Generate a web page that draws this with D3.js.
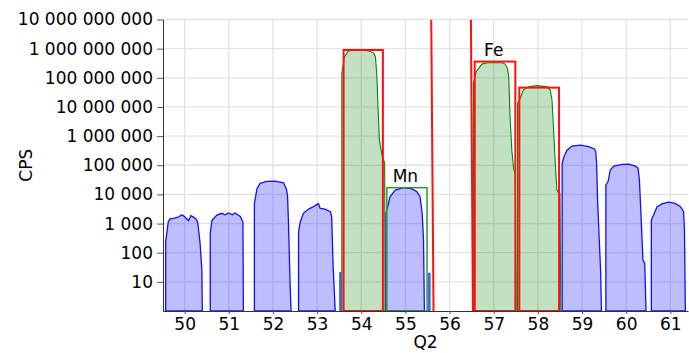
<!DOCTYPE html>
<html>
<head>
<meta charset="utf-8">
<script src="https://cdn.jsdelivr.net/npm/d3@7"></script>
<style>
  body { margin: 0; background: #fff; }
  text { font-family: "DejaVu Sans", sans-serif; fill: #000; }
</style>
</head>
<body>
<svg id="chart"></svg>
<script>
// tick values
const xTicks = [50, 51, 52, 53, 54, 55, 56, 57, 58, 59, 60, 61]
const yTicks = [1e1, 1e2, 1e3, 1e4, 1e5, 1e6, 1e7, 1e8, 1e9, 1e10]

// blue peaks, [Q2, CPS]
const peak50 = [[49.57,1],[49.57,240],[49.63,1150],[49.67,1450],[49.75,1500],[49.85,1650],[49.94,2000],[50.0,1700],[50.09,1250],[50.14,1850],[50.22,1600],[50.28,1300],[50.30,1000],[50.35,210],[50.39,26],[50.40,1]]
const peak51 = [[50.58,1],[50.58,460],[50.62,1300],[50.73,1950],[50.84,2250],[50.92,2000],[50.99,2300],[51.08,2000],[51.14,2300],[51.26,1750],[51.32,1150],[51.33,1]]
const peak52 = [[51.58,1],[51.58,4900],[51.64,16000],[51.71,24000],[51.86,28000],[52.05,28500],[52.24,25000],[52.30,16000],[52.33,9500],[52.35,1300],[52.39,7],[52.41,1]]
const peak53 = [[52.58,1],[52.58,520],[52.62,1150],[52.69,2250],[52.80,3100],[52.92,3800],[53.03,4900],[53.07,3300],[53.18,3100],[53.30,2550],[53.33,1750],[53.36,45],[53.41,1]]
const peakMn = [[54.56,1],[54.56,2250],[54.60,3800],[54.65,8300],[54.77,14000],[54.96,17000],[55.15,15500],[55.26,12300],[55.33,8300],[55.38,2250],[55.41,275],[55.43,1]]
const peak59 = [[58.55,1],[58.55,117000],[58.59,195000],[58.66,330000],[58.77,457000],[58.96,490000],[59.15,437000],[59.28,363000],[59.31,295000],[59.33,117000],[59.35,8300],[59.39,275],[59.42,26],[59.44,1]]
const peak60 = [[59.54,1],[59.54,21000],[59.59,27500],[59.64,69000],[59.72,93000],[59.91,107000],[60.06,110000],[60.21,93000],[60.27,79000],[60.30,31000],[60.35,600],[60.38,56],[60.42,44],[60.45,1]]
const peak61 = [[60.57,1],[60.57,1330],[60.62,1950],[60.70,3800],[60.81,4700],[60.96,5400],[61.11,4900],[61.23,3800],[61.30,2550],[61.32,600],[61.34,1]]
const spike53 = [[53.51,1],[53.51,21],[53.545,21],[53.545,1]]
const spike55 = [[55.52,1],[55.52,20],[55.56,20],[55.56,1]]

// green peaks
const peak54 = [[53.56,1],[53.56,1.4e8],[53.62,5.3e8],[53.71,8.3e8],[53.86,9e8],[54.16,8.5e8],[54.28,7.2e8],[54.32,5.3e8],[54.35,1.4e8],[54.38,1e7],[54.41,7.4e5],[54.47,2.2e5],[54.53,1.2e5],[54.54,1]]
const peakFe = [[56.54,1],[56.54,6.5e7],[56.60,1.6e8],[56.66,2.1e8],[56.73,2.95e8],[56.85,3.3e8],[57.19,3.3e8],[57.26,2.95e8],[57.31,2.1e8],[57.34,1.1e8],[57.37,4.7e6],[57.41,3.3e5],[57.45,7.9e4],[57.49,4.7e4],[57.51,1]]
const peak58 = [[57.54,1],[57.54,1.35e7],[57.60,2e7],[57.67,3.8e7],[57.79,4.9e7],[57.98,5.4e7],[58.21,4.9e7],[58.28,3.8e7],[58.32,1.7e7],[58.36,1.26e6],[58.39,1.5e5],[58.43,1.4e4],[58.47,1.15e4],[58.50,1.1e4],[58.52,1]]

// boxes [from, to, top]
const redBoxes = [[53.60, 54.49, 9e8], [56.57, 57.49, 3.6e8], [57.58, 58.48, 4.6e7]]
const greenBoxes = [[54.58, 55.49, 1.7e4]]
const redLines = [[[55.585, 1e10], [55.637, 1]], [[56.484, 1e10], [56.529, 1]]]

const labelText = ["Mn", "Fe"]
const labelQ = [55, 57]
const labelCps = [1.7e4, 3.6e8]

const width = 689, height = 353
const margin = {top: 19.5, right: 1, bottom: 42, left: 163}
const fontSize = 17

const svg = d3.select("#chart").attr("width", width).attr("height", height)

const x = d3.scaleLinear().domain([49.51, 61.4]).range([margin.left, width - margin.right])
const y = d3.scaleLog().domain([1, 1e10]).range([height - margin.bottom, margin.top])

svg.append("clipPath").attr("id", "plot")
    .append("rect")
    .attr("x", margin.left).attr("y", margin.top)
    .attr("width", width - margin.right - margin.left)
    .attr("height", height - margin.bottom - margin.top)

// grid
const grid = svg.append("g").attr("stroke", "#e3e3e3").attr("stroke-width", 1.3)
grid.selectAll(".gy").data(yTicks).join("line")
    .attr("x1", margin.left).attr("x2", width - margin.right)
    .attr("y1", d => y(d)).attr("y2", d => y(d))
grid.selectAll(".gx").data(xTicks).join("line")
    .attr("x1", d => x(d)).attr("x2", d => x(d))
    .attr("y1", margin.top).attr("y2", height - margin.bottom)

const plot = svg.append("g").attr("clip-path", "url(#plot)")

const area = d3.area()
    .x(d => x(d[0]))
    .y0(y(1))
    .y1(d => y(d[1]))
const line = d3.line().x(d => x(d[0])).y(d => y(d[1]))

const bluePeaks = [peak50, peak51, peak52, peak53, peakMn, peak59, peak60, peak61]
const greenPeaks = [peak54, peakFe, peak58]

plot.selectAll(".gp").data(greenPeaks).join("path")
    .attr("d", area)
    .attr("fill", "rgba(0,128,0,0.24)")
    .attr("stroke", "#0a820a")
    .attr("stroke-width", 1.1)

plot.selectAll(".bp").data(bluePeaks).join("path")
    .attr("d", area)
    .attr("fill", "rgba(40,40,255,0.3)")
    .attr("stroke", "#1010ff")
    .attr("stroke-width", 1.3)

plot.selectAll(".sp").data([spike53, spike55]).join("path")
    .attr("d", area)
    .attr("fill", "#4a6fd0")
    .attr("stroke", "#3050e0")
    .attr("stroke-width", 0.8)

plot.selectAll(".gb").data(greenBoxes).join("rect")
    .attr("x", d => x(d[0]))
    .attr("y", d => y(d[2]))
    .attr("width", d => x(d[1]) - x(d[0]))
    .attr("height", d => y(1) - y(d[2]))
    .attr("fill", "none")
    .attr("stroke", "#2a9a2a")
    .attr("stroke-width", 1.5)

plot.selectAll(".rb").data(redBoxes).join("rect")
    .attr("x", d => x(d[0]))
    .attr("y", d => y(d[2]))
    .attr("width", d => x(d[1]) - x(d[0]))
    .attr("height", d => y(1) - y(d[2]))
    .attr("fill", "none")
    .attr("stroke", "#ff1010")
    .attr("stroke-width", 2)

plot.selectAll(".rl").data(redLines).join("path")
    .attr("d", line)
    .attr("fill", "none")
    .attr("stroke", "#ff1010")
    .attr("stroke-width", 2)

svg.selectAll(".lbl").data(labelText).join("text")
    .attr("x", (d, i) => x(labelQ[i]))
    .attr("y", (d, i) => y(labelCps[i]) - 6)
    .attr("text-anchor", "middle")
    .attr("font-size", fontSize)
    .text(d => d)

// axes
const fmt = v => d3.format(",")(v).replace(/,/g, " ")

const yAxis = svg.append("g")
    .attr("transform", `translate(${margin.left},0)`)
    .call(d3.axisLeft(y).tickValues(yTicks).tickFormat(fmt).tickSize(6).tickPadding(4).tickSizeOuter(0))
yAxis.select(".domain").attr("stroke", "#333")
yAxis.selectAll(".tick line").attr("stroke", "#555")
yAxis.selectAll("text").attr("font-size", fontSize).attr("font-family", "DejaVu Sans, sans-serif")

const xAxis = svg.append("g")
    .attr("transform", `translate(0,${height - margin.bottom})`)
    .call(d3.axisBottom(x).tickValues(xTicks).tickSize(3).tickPadding(4).tickSizeOuter(0))
xAxis.select(".domain").attr("stroke", "#333")
xAxis.selectAll(".tick line").attr("stroke", "#555")
xAxis.selectAll("text").attr("font-size", fontSize).attr("font-family", "DejaVu Sans, sans-serif")

svg.append("text")
    .attr("x", (margin.left + width - margin.right) / 2)
    .attr("y", 348)
    .attr("text-anchor", "middle")
    .attr("font-size", fontSize)
    .text("Q2")

svg.append("text")
    .attr("transform", `translate(32,${(margin.top + height - margin.bottom) / 2}) rotate(-90)`)
    .attr("text-anchor", "middle")
    .attr("font-size", fontSize)
    .text("CPS")
</script>
</body>
</html>
